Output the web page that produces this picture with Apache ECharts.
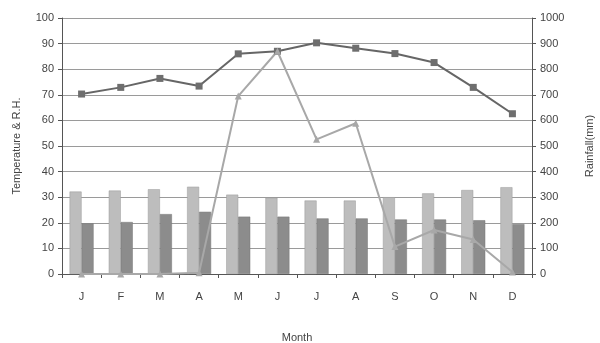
<!DOCTYPE html>
<html>
<head>
<meta charset="utf-8">
<script src="https://cdn.jsdelivr.net/npm/echarts@6/dist/echarts.min.js"></script>
<style>
html,body{margin:0;padding:0;background:#fff;}
#chart{width:600px;height:343px;}
</style>
</head>
<body>
<div id="chart"></div>
<script>
// Monthly climate data
const months = ['J','F','M','A','M','J','J','A','S','O','N','D'];
const tempMax = [32.2, 32.6, 33.1, 34.1, 31.0, 29.8, 28.7, 28.7, 30.0, 31.5, 32.8, 33.9];
const tempMin = [19.8, 20.3, 23.4, 24.3, 22.4, 22.4, 21.7, 21.7, 21.3, 21.3, 21.0, 19.5];
const humidity = [70.3, 72.9, 76.4, 73.4, 86.0, 87.0, 90.3, 88.2, 86.1, 82.6, 72.9, 62.6];
const rainfall = [0, 0, 0, 5, 695, 870, 526, 589, 107, 172, 135, 8];
const leftTicks = [0, 100, 10];
const rightTicks = [0, 1000, 100];

const chart = echarts.init(document.getElementById('chart'));
const font = 'Liberation Sans, Arial, sans-serif';
const axisText = { color: '#444', fontSize: 11, fontFamily: font };
const nameText = { color: '#444', fontSize: 11, fontFamily: font };

chart.setOption({
  animation: false,
  backgroundColor: '#fff',
  grid: { left: 62, right: 68, top: 18, bottom: 69, containLabel: false, outerBoundsMode: 'none' },
  xAxis: {
    type: 'category',
    data: months,
    name: 'Month',
    nameLocation: 'middle',
    nameGap: 58,
    nameTextStyle: nameText,
    axisLine: { lineStyle: { color: '#555' } },
    axisTick: { show: true, length: 4, lineStyle: { color: '#555' } },
    axisLabel: Object.assign({ margin: 17 }, axisText)
  },
  yAxis: [
    {
      type: 'value',
      min: leftTicks[0], max: leftTicks[1], interval: leftTicks[2],
      name: 'Temperature & R.H.',
      nameLocation: 'middle',
      nameGap: 40,
      nameTextStyle: nameText,
      axisLine: { show: true, lineStyle: { color: '#555' } },
      axisTick: { show: true, length: 4, lineStyle: { color: '#555' } },
      axisLabel: Object.assign({ margin: 8 }, axisText),
      splitLine: { lineStyle: { color: '#9a9a9a', width: 1 } }
    },
    {
      type: 'value',
      min: rightTicks[0], max: rightTicks[1], interval: rightTicks[2],
      name: 'Rainfall(mm)',
      nameLocation: 'middle',
      nameGap: 52,
      nameRotate: 90,
      nameTextStyle: nameText,
      axisLine: { show: true, lineStyle: { color: '#555' } },
      axisTick: { show: true, length: 4, lineStyle: { color: '#555' } },
      axisLabel: Object.assign({ margin: 8, formatter: (v) => String(v) }, axisText),
      splitLine: { show: false }
    }
  ],
  series: [
    {
      type: 'bar', data: tempMax, yAxisIndex: 0,
      barWidth: 12, barGap: '0%',
      itemStyle: { color: '#bdbdbd', borderColor: '#9a9a9a', borderWidth: 0.5 }
    },
    {
      type: 'bar', data: tempMin, yAxisIndex: 0,
      barWidth: 12, barGap: '0%',
      itemStyle: { color: '#8c8c8c', borderColor: '#777', borderWidth: 0.5 }
    },
    {
      type: 'line', data: humidity, yAxisIndex: 0,
      symbol: 'rect', symbolSize: 7,
      lineStyle: { color: '#666', width: 2 },
      itemStyle: { color: '#6e6e6e' }
    },
    {
      type: 'line', data: rainfall, yAxisIndex: 1,
      symbol: 'triangle', symbolSize: 7,
      lineStyle: { color: '#a8a8a8', width: 2 },
      itemStyle: { color: '#a8a8a8' }
    }
  ]
});
</script>
</body>
</html>
